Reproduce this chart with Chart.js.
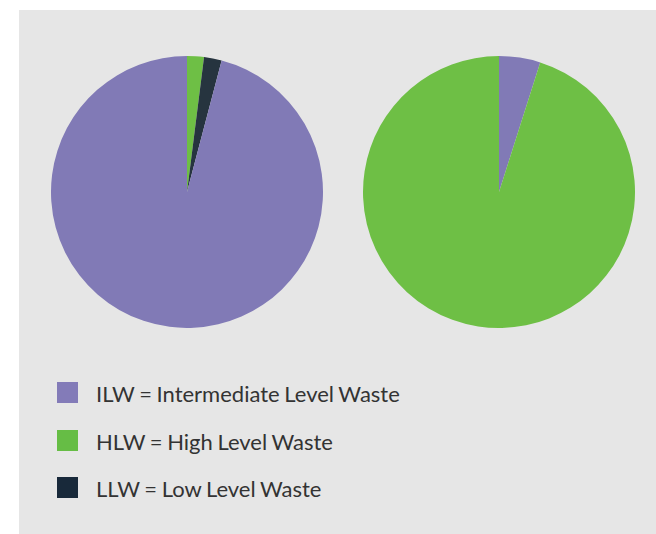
<!DOCTYPE html>
<html>
<head>
<meta charset="utf-8">
<script src="https://cdn.jsdelivr.net/npm/chart.js@4/dist/chart.umd.min.js"></script>
<style>
  html, body { margin: 0; padding: 0; background: #ffffff; }
  body { width: 656px; height: 534px; position: relative; overflow: hidden; }
  #panel { position: absolute; left: 19px; top: 10px; width: 637px; height: 524px; background: #e6e6e6; }
  .pie { position: absolute; top: 56px; width: 272px; height: 272px; }
  #pieLeft { left: 51px; }
  #pieRight { left: 363px; }
  #legend { position: absolute; left: 57px; top: 382px; font-family: "Lato", sans-serif; font-size: 22px; color: #333333; }
  .item { position: relative; height: 47.5px; }
  .swatch { position: absolute; left: 0; top: 0; width: 21px; height: 21px; }
  .label { position: absolute; left: 39px; top: -1px; line-height: 26px; white-space: nowrap; word-spacing: -1px; }
</style>
</head>
<body>
<div id="panel"></div>
<canvas id="pieLeft" class="pie" width="272" height="272"></canvas>
<canvas id="pieRight" class="pie" width="272" height="272"></canvas>
<div id="legend"></div>

<script>
// waste categories and legend texts
const legendKeys = ["ILW", "HLW", "LLW"];
const legendTexts = [
    "ILW = Intermediate Level Waste",
    "HLW = High Level Waste",
    "LLW = Low Level Waste"
];

// left pie, clockwise from 12 o'clock
const leftLabels = ["HLW", "LLW", "ILW"];
const leftValues = [2.0, 2.1, 95.9];

// right pie, clockwise from 12 o'clock
const rightLabels = ["ILW", "HLW"];
const rightValues = [4.9, 95.1];

const wasteColors = {
    ILW: "#817ab6",
    HLW: "#6ebf45",
    LLW: "#26343f"
};
const legendColors = {
    ILW: "#837bb8",
    HLW: "#66bd45",
    LLW: "#18293a"
};

function makePie(id, labels, values) {
    const ctx = document.getElementById(id).getContext("2d");
    return new Chart(ctx, {
        type: "pie",
        data: {
            labels: labels,
            datasets: [{
                data: values,
                backgroundColor: labels.map(l => wasteColors[l]),
                borderWidth: 0
            }]
        },
        options: {
            responsive: false,
            animation: false,
            layout: { padding: 0 },
            plugins: {
                legend: { display: false },
                tooltip: { enabled: false }
            }
        }
    });
}

makePie("pieLeft", leftLabels, leftValues);
makePie("pieRight", rightLabels, rightValues);

// legend under the pies
const legendBox = document.getElementById("legend");
legendKeys.forEach((key, i) => {
    legendBox.innerHTML += `
        <div class="item">
            <div class="swatch" style="background:${legendColors[key]}"></div>
            <div class="label">${legendTexts[i]}</div>
        </div>
    `;
});
</script>
</body>
</html>
